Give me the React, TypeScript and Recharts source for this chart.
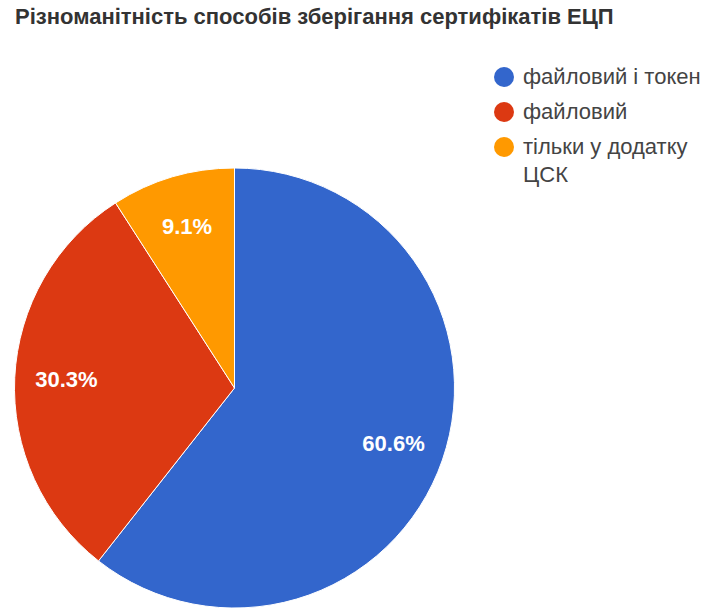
import { PieChart, Pie, Cell, Legend } from 'recharts';

// Storage methods for digital-signature (ЕЦП) certificates — share of answers
const categories = ['файловий і токен', 'файловий', 'тільки у додатку ЦСК'];
const counts = [20, 10, 3];
const colors = ['#3366cc', '#dc3912', '#ff9900'];

const title = 'Різноманітність способів зберігання сертифікатів ЕЦП';

const data = categories.map((name, i) => ({ name, value: counts[i] }));

const FONT = 'Arial, "Liberation Sans", sans-serif';
const RAD = Math.PI / 180;

function renderLabel(props: any) {
  const { cx, cy, midAngle, outerRadius, percent } = props;
  const r = outerRadius * 0.765;
  const x = cx + r * Math.cos(-midAngle * RAD);
  const y = cy + r * Math.sin(-midAngle * RAD);
  return (
    <text
      x={x}
      y={y}
      fill="#ffffff"
      textAnchor="middle"
      dominantBaseline="central"
      style={{ fontFamily: FONT, fontSize: 22, fontWeight: 700 }}
    >
      {(percent * 100).toFixed(1)}%
    </text>
  );
}

function LegendContent() {
  return (
    <div style={{ fontFamily: FONT, fontSize: 22, color: '#444' }}>
      {categories.map((name, i) => (
        <div
          key={name}
          style={{ display: 'flex', alignItems: 'flex-start', marginBottom: 7, lineHeight: '28px' }}
        >
          <span
            style={{
              width: 20,
              height: 20,
              borderRadius: '50%',
              background: colors[i],
              flex: '0 0 auto',
              marginTop: 4,
              marginRight: 9,
            }}
          />
          <span style={{ width: 180 }}>{name}</span>
        </div>
      ))}
    </div>
  );
}

export default function App() {
  return (
    <div style={{ position: 'absolute', left: 0, top: 0, width: 704, height: 608, background: '#fff' }}>
      <div
        style={{
          position: 'absolute',
          left: 15,
          top: 6,
          fontFamily: FONT,
          fontSize: 22,
          lineHeight: '22px',
          fontWeight: 700,
          color: '#333',
          whiteSpace: 'nowrap',
        }}
      >
        {title}
      </div>
      <PieChart width={704} height={608} margin={{ top: 0, right: 0, bottom: 0, left: 0 }}>
        <Pie
          data={data}
          dataKey="value"
          nameKey="name"
          cx={234.5}
          cy={388}
          outerRadius={220}
          startAngle={90}
          endAngle={-270}
          stroke="#ffffff"
          strokeWidth={1}
          label={renderLabel}
          labelLine={false}
          isAnimationActive={false}
        >
          {data.map((d, i) => (
            <Cell key={d.name} fill={colors[i]} />
          ))}
        </Pie>
        <Legend
          layout="vertical"
          align="right"
          verticalAlign="top"
          content={<LegendContent />}
          wrapperStyle={{ position: 'absolute', left: 494, top: 63, width: 210 }}
        />
      </PieChart>
    </div>
  );
}
